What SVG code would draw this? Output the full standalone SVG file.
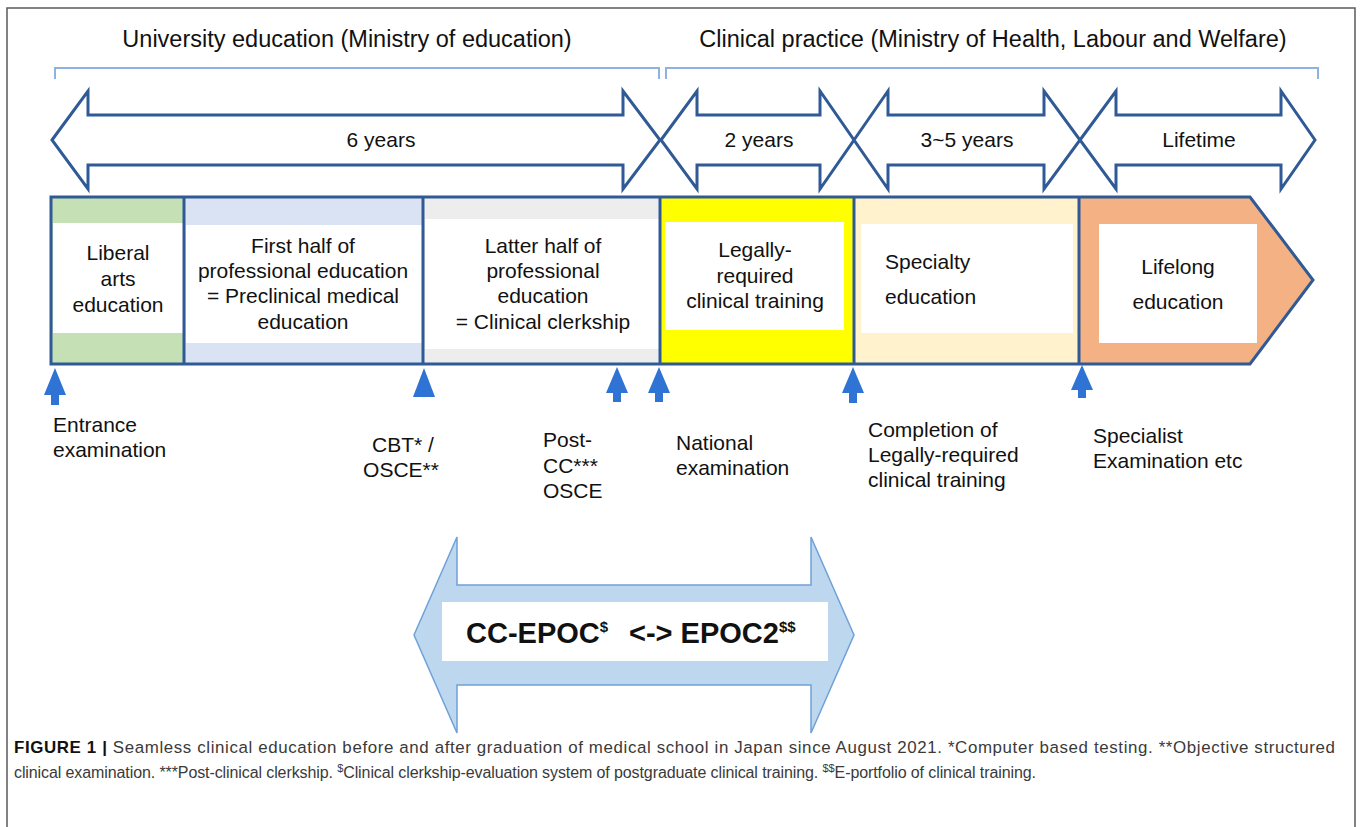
<svg xmlns="http://www.w3.org/2000/svg" width="1360" height="827" viewBox="0 0 1360 827">
<style>
text{font-family:"Liberation Sans",Arial,sans-serif;fill:#111;}
.title{font-size:23.5px;}
.dur{font-size:21px;text-anchor:middle;}
.cell{font-size:21px;}
.mid{text-anchor:middle;}
.lbl{font-size:21px;}
.bracket{fill:none;stroke:#8fb3e0;stroke-width:2;}
.span{fill:#fff;stroke:#2f5a96;stroke-width:3;stroke-linejoin:miter;}
.div{stroke:#2f5a96;stroke-width:3;}
.mark{fill:#2f74d4;}
.cap{fill:#3a3a3a;}
</style>
<rect width="1360" height="827" fill="#fff"/>
<path d="M7,827 V8 H1355 V827" fill="none" stroke="#5a5a5a" stroke-width="1.5"/>

<g id="headers">
<text class="title" x="347" y="47" text-anchor="middle">University education (Ministry of education)</text>
<text class="title" x="993" y="47" text-anchor="middle">Clinical practice (Ministry of Health, Labour and Welfare)</text>
<path class="bracket" d="M55,79 V68 H659 V79"/>
<path class="bracket" d="M666,79 V68 H1318 V79"/>
</g>

<g id="durations">
<g id="dur-6years">
<polygon class="span" points="52,140 88,91 88,115 623,115 623,91 660,140 623,189 623,165 88,165 88,189"/>
<text class="dur" x="381" y="147">6 years</text>
</g>
<g id="dur-2years">
<polygon class="span" points="661,140 697,91 697,115 820,115 820,91 854,140 820,189 820,165 697,165 697,189"/>
<text class="dur" x="759" y="147">2 years</text>
</g>
<g id="dur-3-5years">
<polygon class="span" points="854,140 888,91 888,115 1044,115 1044,91 1080,140 1044,189 1044,165 888,165 888,189"/>
<text class="dur" x="967" y="147">3~5 years</text>
</g>
<g id="dur-lifetime">
<polygon class="span" points="1080,140 1116,91 1116,115 1281,115 1281,91 1315,140 1281,189 1281,165 1116,165 1116,189"/>
<text class="dur" x="1199" y="147">Lifetime</text>
</g>
</g>

<g id="bar">
<g id="liberal-arts">
<rect x="51" y="197" width="133" height="167" fill="#c5e0b4"/>
<rect x="53" y="223" width="130" height="110" fill="#fff"/>
<text class="cell mid" x="118" y="260">Liberal</text>
<text class="cell mid" x="118" y="286">arts</text>
<text class="cell mid" x="118" y="312">education</text>
</g>
<g id="first-half">
<rect x="184" y="197" width="239" height="167" fill="#dae3f3"/>
<rect x="186" y="225" width="236" height="118" fill="#fff"/>
<text class="cell mid" x="303" y="253">First half of</text>
<text class="cell mid" x="303" y="278">professional education</text>
<text class="cell mid" x="303" y="303">= Preclinical medical</text>
<text class="cell mid" x="303" y="329">education</text>
</g>
<g id="latter-half">
<rect x="423" y="197" width="237" height="167" fill="#ededed"/>
<rect x="425" y="219" width="234" height="130" fill="#fff"/>
<text class="cell mid" x="543" y="253">Latter half of</text>
<text class="cell mid" x="543" y="278">professional</text>
<text class="cell mid" x="543" y="303">education</text>
<text class="cell mid" x="543" y="329">= Clinical clerkship</text>
</g>
<g id="legally-required">
<rect x="660" y="197" width="194" height="167" fill="#ffff00"/>
<rect x="665" y="222" width="179" height="108" fill="#fff"/>
<text class="cell mid" x="755" y="257">Legally-</text>
<text class="cell mid" x="755" y="283">required</text>
<text class="cell mid" x="755" y="308">clinical training</text>
</g>
<g id="specialty">
<rect x="854" y="197" width="225" height="167" fill="#fff2cc"/>
<rect x="861" y="224" width="212" height="109" fill="#fff"/>
<text class="cell" x="885" y="269">Specialty</text>
<text class="cell" x="885" y="304">education</text>
</g>
<g id="lifelong">
<polygon points="1079,197 1250,197 1313,280 1250,364 1079,364" fill="#f4b183"/>
<rect x="1099" y="224" width="158" height="119" fill="#fff"/>
<text class="cell mid" x="1178" y="274">Lifelong</text>
<text class="cell mid" x="1178" y="309">education</text>
</g>
<path d="M51,197 H1250 L1313,280 L1250,364 H51 Z" fill="none" stroke="#2f5a96" stroke-width="3" stroke-linejoin="miter"/>
<line class="div" x1="184" y1="197" x2="184" y2="364"/>
<line class="div" x1="423" y1="197" x2="423" y2="364"/>
<line class="div" x1="660" y1="197" x2="660" y2="364"/>
<line class="div" x1="854" y1="197" x2="854" y2="364"/>
<line class="div" x1="1079" y1="197" x2="1079" y2="364"/>
</g>

<g id="connectors">
<polygon class="mark" points="55,368 66,395 59,395 59,405 51,405 51,395 44,395"/>
<polygon class="mark" points="424,368 435,397 413,397"/>
<polygon class="mark" points="617,367 628,393 621,393 621,402 613,402 613,393 606,393"/>
<polygon class="mark" points="659,367 670,393 663,393 663,402 655,402 655,393 648,393"/>
<polygon class="mark" points="853,367 864,393 857,393 857,403 849,403 849,393 842,393"/>
<polygon class="mark" points="1082,365 1093,390 1086,390 1086,398 1078,398 1078,390 1071,390"/>
</g>

<g id="milestones">
<g id="m-entrance">
<text class="lbl" x="53" y="432">Entrance</text>
<text class="lbl" x="53" y="457">examination</text>
</g>
<g id="m-cbt">
<text class="lbl mid" x="403" y="452">CBT* /</text>
<text class="lbl mid" x="401" y="477">OSCE**</text>
</g>
<g id="m-postcc">
<text class="lbl" x="543" y="447">Post-</text>
<text class="lbl" x="543" y="473">CC***</text>
<text class="lbl" x="543" y="498">OSCE</text>
</g>
<g id="m-national">
<text class="lbl" x="676" y="450">National</text>
<text class="lbl" x="676" y="475">examination</text>
</g>
<g id="m-completion">
<text class="lbl" x="868" y="437">Completion of</text>
<text class="lbl" x="868" y="462">Legally-required</text>
<text class="lbl" x="868" y="487">clinical training</text>
</g>
<g id="m-specialist">
<text class="lbl" x="1093" y="443">Specialist</text>
<text class="lbl" x="1093" y="468">Examination etc</text>
</g>
</g>

<g id="epoc">
<polygon points="414,635 457,537 457,585 811,585 811,537 854,635 811,733 811,685 457,685 457,733" fill="#bdd7ee" stroke="#6fa1d8" stroke-width="1.5"/>
<rect x="442" y="602" width="386" height="59" fill="#fff"/>
<text x="466" y="643" font-size="29" font-weight="bold">CC-EPOC<tspan font-size="15" dy="-11">$</tspan><tspan x="629" dy="11">&lt;-&gt; EPOC2</tspan><tspan font-size="15" dy="-11">$$</tspan></text>
</g>

<g id="caption">
<text class="cap" x="14" y="753" font-size="16.9" textLength="1321" lengthAdjust="spacing"><tspan font-weight="bold" fill="#111">FIGURE 1 |</tspan> Seamless clinical education before and after graduation of medical school in Japan since August 2021. *Computer based testing. **Objective structured</text>
<text class="cap" x="14" y="778" font-size="16" textLength="1022" lengthAdjust="spacing">clinical examination. ***Post-clinical clerkship. <tspan font-size="11" dy="-6">$</tspan><tspan dy="6">Clinical clerkship-evaluation system of postgraduate clinical training. </tspan><tspan font-size="11" dy="-6">$$</tspan><tspan dy="6">E-portfolio of clinical training.</tspan></text>
</g>
</svg>
